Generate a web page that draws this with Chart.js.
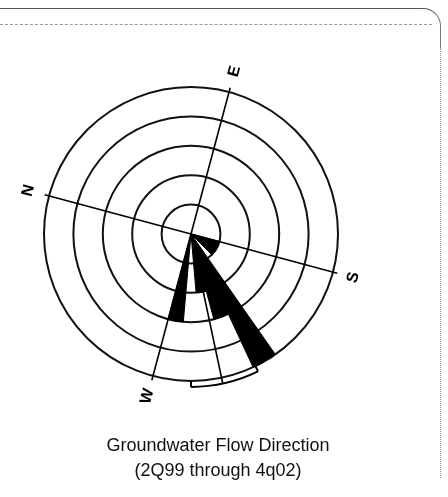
<!DOCTYPE html>
<html>
<head>
<meta charset="utf-8">
<script src="https://cdn.jsdelivr.net/npm/chart.js@4.4.1/dist/chart.umd.min.js"></script>
<style>
  html, body { margin: 0; padding: 0; background: #fff; }
  body { width: 448px; height: 497px; position: relative; overflow: hidden; }
  #wrap { position: absolute; left: 0; top: 0; width: 448px; height: 497px; }
  .cap { position: absolute; left: 0; width: 436px; text-align: center;
         font-family: 'Liberation Sans', Arial, sans-serif; font-size: 18px;
         line-height: 22px; color: #111; }
  .edge1 { position: absolute; left: 0; top: 8px; width: 440px; height: 40px;
           border-top: 1.5px solid #555; border-right: 1px solid #777;
           border-top-right-radius: 18px; }
  .edge2 { position: absolute; left: 0; top: 24px; width: 432px; height: 0;
           border-top: 1px dashed #999; }
  .edge3 { position: absolute; left: 440px; top: 48px; width: 0; height: 430px;
           border-left: 1px dotted #999; }
</style>
</head>
<body>
<div class="edge1"></div>
<div class="edge2"></div>
<div class="edge3"></div>
<div id="wrap"><canvas id="rose"></canvas></div>
<div class="cap" style="top:434px">Groundwater Flow Direction</div>
<div class="cap" style="top:459px">(2Q99 through 4q02)</div>
<script>
// Bins de 10 degres (azimut, 0 = nord)
const bearings = ['0', '10', '20', '30', '40', '50', '60', '70', '80',
                  '90', '100', '110', '120', '130', '140', '150', '160', '170',
                  '180', '190', '200', '210', '220', '230', '240', '250', '260',
                  '270', '280', '290', '300', '310', '320', '330', '340', '350'];
// Nombre de mesures par bin
const counts = [0, 0, 0, 0, 0, 0, 0, 0, 0,
                0, 0, 0, 0, 0, 0, 0, 0, 0,
                1, 1, 1, 0, 5, 3, 2, 0, 3,
                0, 0, 0, 0, 0, 0, 0, 0, 0];
const ringMax = 5;

// Axes de la rose
const axisLabels = ['N', 'E', 'S', 'W'];
const axisBearings = [0, 90, 180, 270];
const northAngle = 285;   // orientation du nord sur le dessin

// Direction moyenne et intervalle de confiance
const meanBearing = 243;
const ciBearings = [229, 255];

const compassPlugin = {
    id: 'compass',
    afterDatasetsDraw(chart) {
        const r = chart.scales.r;
        const ctx = chart.ctx;
        const rad = b => b * Math.PI / 180;
        // index 0 = nord, on ajoute l'azimut
        const pos = (b, v) => r.getPointPosition(0, r.getDistanceFromCenterForValue(v), rad(b));
        const startA = r.getIndexAngle(0) - Math.PI / 2;

        ctx.save();
        ctx.strokeStyle = '#000';
        ctx.lineWidth = 1.6;

        // N-S et E-W
        [[0, 180], [90, 270]].forEach(([a, b]) => {
            const p1 = pos(a, 5.15);
            const p2 = pos(b, 5.15);
            ctx.beginPath();
            ctx.moveTo(p1.x, p1.y);
            ctx.lineTo(p2.x, p2.y);
            ctx.stroke();
        });

        // direction moyenne
        const c = pos(meanBearing, 0);
        const m = pos(meanBearing, 5.18);
        ctx.beginPath();
        ctx.moveTo(c.x, c.y);
        ctx.lineTo(m.x, m.y);
        ctx.stroke();

        // intervalle de confiance
        ctx.lineWidth = 2;
        ctx.beginPath();
        ctx.arc(r.xCenter, r.yCenter, r.getDistanceFromCenterForValue(5.2),
                startA + rad(ciBearings[0]), startA + rad(ciBearings[1]));
        ctx.stroke();
        ciBearings.forEach(b => {
            const t1 = pos(b, 5.2);
            const t2 = pos(b, 4.97);
            ctx.beginPath();
            ctx.moveTo(t1.x, t1.y);
            ctx.lineTo(t2.x, t2.y);
            ctx.stroke();
        });

        // lettres
        ctx.fillStyle = '#000';
        ctx.font = 'bold 16px "Liberation Sans", Arial, sans-serif';
        ctx.textAlign = 'center';
        ctx.textBaseline = 'middle';
        axisLabels.forEach((lab, i) => {
            const p = pos(axisBearings[i], 5.72);
            ctx.save();
            ctx.translate(p.x, p.y);
            ctx.rotate(rad(northAngle));
            ctx.fillText(lab, 0, 0);
            ctx.restore();
        });
        ctx.restore();
    }
};

new Chart(document.getElementById('rose'), {
    type: 'polarArea',
    data: {
        labels: bearings,
        datasets: [{
            data: counts,
            backgroundColor: '#000',
            borderColor: '#000',
            borderWidth: 1
        }]
    },
    options: {
        responsive: true,
        maintainAspectRatio: false,
        animation: false,
        layout: {
            padding: { left: 44, right: 110, top: 87, bottom: 116 }
        },
        scales: {
            r: {
                min: 0,
                max: ringMax,
                startAngle: northAngle,
                ticks: { display: false, stepSize: 1 },
                grid: { circular: true, color: '#111', lineWidth: 2 },
                angleLines: { display: false },
                pointLabels: { display: false }
            }
        },
        plugins: {
            legend: { display: false },
            tooltip: { enabled: false }
        }
    },
    plugins: [compassPlugin]
});
</script>
</body>
</html>
